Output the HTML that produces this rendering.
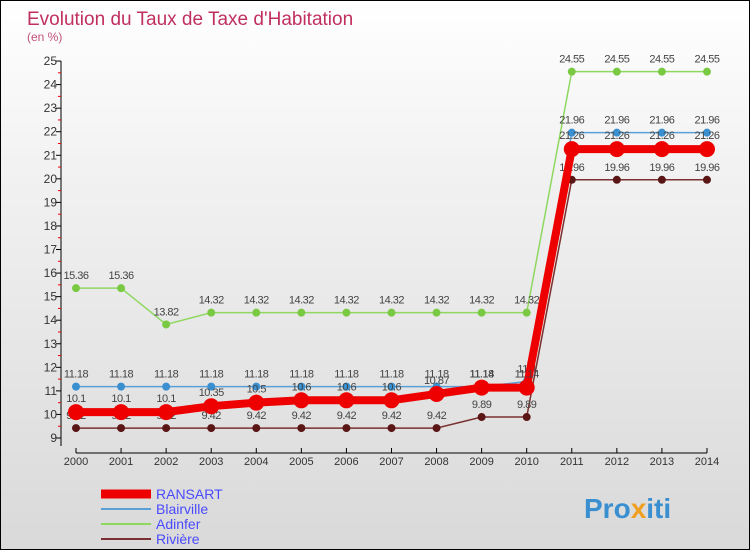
<!DOCTYPE html>
<html><head><meta charset="utf-8"><style>
body{margin:0;width:750px;height:550px;overflow:hidden;font-family:"Liberation Sans",sans-serif}
#wrap{position:absolute;left:0;top:0;width:748px;height:548px;border:1px solid #000;background:linear-gradient(#fff,#f2f2f2 30%,#d9d9d9)}
</style></head><body>
<div id="wrap">
<svg id="chart" width="748" height="548" style="position:absolute;left:0;top:0">
<text x="26" y="24" font-size="19" fill="#c0305f">Evolution du Taux de Taxe d'Habitation</text>
<text x="26" y="40" font-size="12" fill="#c0507a">(en %)</text>
<g id="axes"></g><g id="series"></g><g id="legend"></g>
<text x="583" y="517" font-size="28" font-weight="bold" fill="#3a8fd0">Pro<tspan fill="#f0a020">x</tspan>iti</text>
</svg></div>
<script>
const years=[2000,2001,2002,2003,2004,2005,2006,2007,2008,2009,2010,2011,2012,2013,2014];
const yTicks=[9,10,11,12,13,14,15,16,17,18,19,20,21,22,23,24,25];
const ransart=[10.1,10.1,10.1,10.35,10.5,10.6,10.6,10.6,10.87,11.14,11.14,21.26,21.26,21.26,21.26];
const blairville=[11.18,11.18,11.18,11.18,11.18,11.18,11.18,11.18,11.18,11.18,11.4,21.96,21.96,21.96,21.96];
const adinfer=[15.36,15.36,13.82,14.32,14.32,14.32,14.32,14.32,14.32,14.32,14.32,24.55,24.55,24.55,24.55];
const riviere=[9.42,9.42,9.42,9.42,9.42,9.42,9.42,9.42,9.42,9.89,9.89,19.96,19.96,19.96,19.96];
const seriesNames=["RANSART","Blairville","Adinfer","Rivière"];
const NS="http://www.w3.org/2000/svg";
const X=i=>75+i*45.07, Y=v=>437-(v-9)*23.56;
function mk(tag,attrs,parent,txt){const e=document.createElementNS(NS,tag);for(const k in attrs)e.setAttribute(k,attrs[k]);if(txt!==undefined)e.textContent=txt;parent.appendChild(e);return e;}
const ax=document.getElementById('axes');
let e=mk('line',{x1:60,y1:60,x2:60,y2:445,stroke:'#000'},ax);


yTicks.forEach(t=>{mk('line',{x1:55,y1:Y(t),x2:60,y2:Y(t),stroke:'#000'},ax);
 if(t<25)mk('line',{x1:57,y1:Y(t+0.5),x2:60,y2:Y(t+0.5),stroke:'#e00'},ax);
 const l=mk('text',{x:56,y:Y(t)+4,'font-size':12,fill:'#333','text-anchor':'end'},ax,t);
 
 });
e=mk('line',{x1:X(0),y1:452,x2:X(14),y2:452,stroke:'#000'},ax);


years.forEach((y,i)=>{mk('line',{x1:X(i),y1:447,x2:X(i),y2:452,stroke:'#000'},ax);
 const l=mk('text',{x:X(i),y:464,'font-size':11,fill:'#333','text-anchor':'middle'},ax,y);
 
 });
const sg=document.getElementById('series');
const defs=[[adinfer,'#8fd860','#7ac943',1.5,4,'adinfer'],[blairville,'#5aa0d8','#3a8fd0',1.5,4,'blairville'],[riviere,'#7a3030','#5a1515',1.5,4,'riviere'],[ransart,'#e00','#e00',8,8,'ransart']];
defs.forEach(([d,lc,pc,w,r,n])=>{
 const p=mk('polyline',{points:d.map((v,i)=>X(i)+','+Y(v)).join(' '),fill:'none',stroke:lc,'stroke-width':w},sg);
 
 
 d.forEach((v,i)=>{const c=mk('circle',{cx:X(i),cy:Y(v),r:r,fill:pc},sg);
  
  
  const t=mk('text',{x:X(i),y:Y(v)-(n==='ransart'?10:9),'font-size':11,fill:'#444','text-anchor':'middle','letter-spacing':'-0.5'},sg,String(v));
  
  });
});
const lg=document.getElementById('legend');
const lcol=['#e00','#5aa0d8','#8fd860','#7a3030'],lw=[9,2,2,2];
seriesNames.forEach((s,i)=>{const y=493+i*15;
 const l=mk('line',{x1:100,y1:y,x2:150,y2:y,stroke:lcol[i],'stroke-width':lw[i]},lg);
 
 
 const t=mk('text',{x:155,y:y+5,'font-size':14,fill:'#4a4aff'},lg,s);
 
 });
</script>
</body></html>
